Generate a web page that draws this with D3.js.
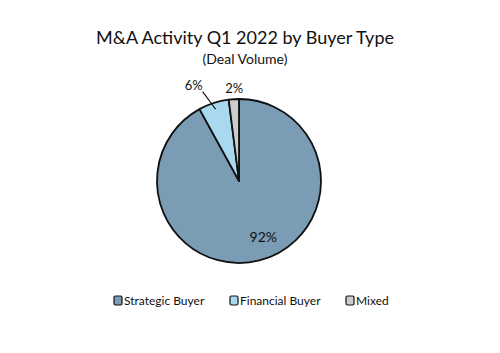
<!DOCTYPE html>
<html>
<head>
<meta charset="utf-8">
<script src="https://cdn.jsdelivr.net/npm/d3@7"></script>
<style>
  body { margin: 0; background: #fff; }
  text { font-family: "Humor Sans", "Comic Sans MS", Lato, sans-serif; fill: #111; }
</style>
</head>
<body>
<div id="chart"></div>
<script>
var buyerTypes = ["Strategic Buyer", "Financial Buyer", "Mixed"];
var dealShares = [92, 6, 2];
var sliceColors = ["#7a9cb4", "#a8d9ee", "#cccccc"];

function draw(){
    var width = 500, height = 353;
    var cx = 239, cy = 181, radius = 82;

    var svg = d3.select("#chart").append("svg")
        .attr("width", width)
        .attr("height", height);

    svg.append("text")
       .attr("x", 245).attr("y", 44)
       .attr("text-anchor", "middle")
       .style("font-size", "18px")
       .text("M&A Activity Q1 2022 by Buyer Type");

    svg.append("text")
       .attr("x", 245).attr("y", 64)
       .attr("text-anchor", "middle")
       .style("font-size", "14px")
       .text("(Deal Volume)");

    var data = buyerTypes.map(function(d, i){
        return {name: d, value: dealShares[i], color: sliceColors[i]};
    });

    var pie = d3.pie().sort(null).value(function(d){ return d.value; });
    var arc = d3.arc().innerRadius(0).outerRadius(radius);
    var arcs = pie(data);

    var g = svg.append("g").attr("transform", "translate(" + cx + "," + cy + ")");

    g.selectAll("path.slice")
     .data(arcs)
     .enter()
     .append("path")
     .attr("class", "slice")
     .attr("d", arc)
     .attr("fill", function(d){ return d.data.color; })
     .attr("stroke", "#111")
     .attr("stroke-width", 1.8)
     .attr("stroke-linejoin", "round");

    // labels: big slice inside, small ones outside
    arcs.forEach(function(d, i){
        var mid = (d.startAngle + d.endAngle) / 2;
        var label = d.data.value + "%";
        if (i === 0) {
            var p = d3.arc().innerRadius(radius * 0.7).outerRadius(radius * 0.7).centroid(d);
            g.append("text")
             .attr("x", p[0] + 10).attr("y", p[1] + 5)
             .attr("text-anchor", "middle")
             .style("font-size", "14px")
             .text(label);
        } else if (i === 1) {
            var inner = [Math.sin(mid) * radius * 0.92, -Math.cos(mid) * radius * 0.92];
            var outer = [Math.sin(mid) * radius * 1.12 - 8, -Math.cos(mid) * radius * 1.12 - 2];
            g.append("line")
             .attr("x1", inner[0]).attr("y1", inner[1])
             .attr("x2", outer[0]).attr("y2", outer[1])
             .attr("stroke", "#111").attr("stroke-width", 1.2);
            g.append("text")
             .attr("x", outer[0] - 9).attr("y", outer[1] - 2)
             .attr("text-anchor", "middle")
             .style("font-size", "13px")
             .text(label);
        } else {
            g.append("text")
             .attr("x", Math.sin(mid) * radius * 1.12 + 1)
             .attr("y", -Math.cos(mid) * radius * 1.12 + 4)
             .attr("text-anchor", "middle")
             .style("font-size", "13px")
             .text(label);
        }
    });

    // legend
    var legendX = [118, 234, 350];
    var legend = svg.selectAll("g.legend")
        .data(data)
        .enter()
        .append("g")
        .attr("class", "legend")
        .attr("transform", function(d, i){ return "translate(" + legendX[i] + ",301)"; });

    legend.append("rect")
        .attr("x", -4).attr("y", -5)
        .attr("width", 8).attr("height", 9)
        .attr("rx", 1.5)
        .attr("fill", function(d){ return d.color; })
        .attr("stroke", "#111")
        .attr("stroke-width", 1.2);

    legend.append("text")
        .attr("x", 6).attr("y", 4)
        .style("font-size", "12px")
        .text(function(d){ return d.name; });
}

draw();
</script>
</body>
</html>
